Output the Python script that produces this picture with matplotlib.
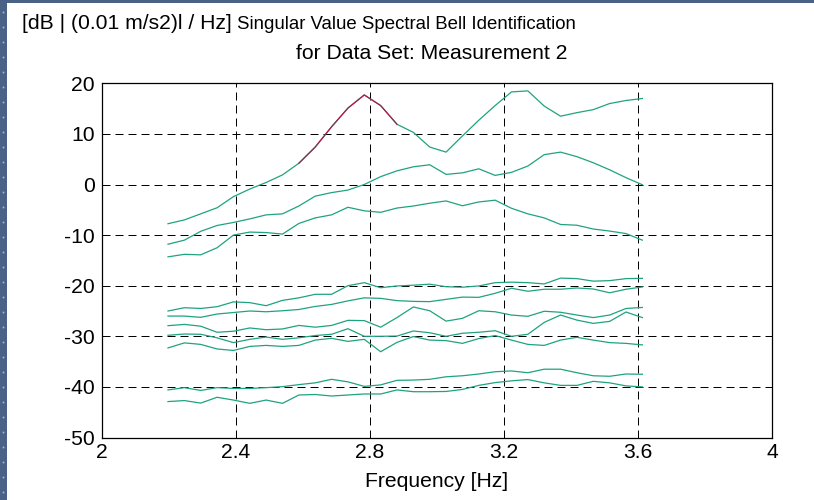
import numpy as np
import matplotlib.pyplot as plt
from matplotlib.patches import Rectangle
from matplotlib.ticker import FormatStrFormatter

# frequency lines (Hz), 30 spectral lines with ~0.0488 Hz resolution
freq_start = 2.197
freq_step = 0.048828
n_points = 30

# singular values [dB]
sv1 = [-7.75, -7.0, -5.8, -4.6, -2.4, -0.9, 0.4, 1.9, 4.2, 7.4,
       11.4, 15.1, 17.7, 15.6, 11.9, 10.3, 7.4, 6.4, 9.6, 12.7,
       15.6, 18.3, 18.5, 15.5, 13.5, 14.2, 14.8, 16.0, 16.6, 17.0]
sv2 = [-11.8, -11.0, -9.25, -8.1, -7.5, -6.8, -6.0, -5.8, -4.25, -2.3,
       -1.6, -1.1, 0.0, 1.55, 2.7, 3.5, 3.9, 2.0, 2.3, 3.1,
       1.8, 2.4, 3.65, 5.9, 6.4, 5.5, 4.3, 2.9, 1.35, -0.05]
sv3 = [-14.3, -13.8, -13.9, -12.5, -10.0, -9.4, -9.5, -9.8, -7.7, -6.6,
       -6.0, -4.5, -5.2, -5.5, -4.65, -4.25, -3.7, -3.25, -4.2, -3.45,
       -3.1, -4.7, -5.8, -6.6, -7.9, -8.05, -8.8, -9.2, -9.7, -11.0]
sv4 = [-25.0, -24.35, -24.5, -24.15, -23.2, -23.35, -23.95, -22.9, -22.4, -21.7,
       -21.7, -20.0, -19.4, -20.4, -20.05, -19.9, -19.7, -20.2, -20.3, -20.05,
       -19.4, -19.3, -19.4, -19.65, -18.5, -18.6, -19.1, -19.0, -18.6, -18.55]
sv5 = [-26.0, -26.0, -26.25, -25.6, -25.3, -25.0, -25.15, -24.95, -24.7, -24.1,
       -23.7, -23.0, -22.4, -22.5, -22.95, -23.1, -23.15, -22.7, -22.25, -22.3,
       -21.5, -20.5, -21.1, -20.7, -20.7, -20.45, -20.65, -21.4, -20.7, -20.25]
sv6 = [-27.9, -27.65, -28.0, -29.2, -29.0, -28.35, -28.7, -28.55, -27.85, -28.2,
       -27.85, -26.85, -26.9, -28.2, -26.3, -24.2, -24.95, -27.0, -26.45, -24.95,
       -25.15, -25.8, -26.05, -25.05, -25.25, -25.8, -26.3, -25.8, -24.5, -24.3]
sv7 = [-29.8, -29.55, -29.6, -30.3, -31.25, -30.6, -30.15, -30.6, -30.3, -29.85,
       -29.6, -28.5, -30.0, -30.0, -29.95, -28.95, -29.3, -30.0, -29.4, -29.2,
       -28.9, -30.0, -29.6, -27.25, -25.8, -26.8, -27.45, -27.05, -25.2, -26.3]
sv8 = [-32.3, -31.3, -31.6, -32.5, -32.8, -32.0, -31.8, -32.0, -31.8, -30.75,
       -30.4, -31.0, -30.6, -33.05, -31.2, -30.05, -30.75, -30.85, -31.4, -30.45,
       -29.85, -30.75, -31.6, -31.8, -30.75, -30.2, -30.75, -31.25, -31.4, -31.7]
sv9 = [-40.6, -40.15, -40.7, -40.15, -40.3, -40.3, -40.15, -39.95, -39.55, -39.2,
       -38.5, -39.0, -39.9, -39.6, -38.7, -38.65, -38.5, -38.0, -37.8, -37.45,
       -37.0, -36.85, -37.2, -36.5, -36.5, -37.2, -37.8, -37.9, -37.45, -37.5]
sv10 = [-42.9, -42.7, -43.2, -42.05, -42.6, -43.25, -42.6, -43.25, -41.6, -41.5,
        -41.8, -41.6, -41.4, -41.4, -40.6, -40.95, -40.95, -40.9, -40.5, -39.7,
        -39.15, -38.8, -38.55, -39.2, -39.7, -39.7, -38.9, -39.2, -39.8, -40.0]

# the selected bell on the first singular value (index range)
bell_start, bell_stop = 8, 14

x_ticks = [2, 2.4, 2.8, 3.2, 3.6, 4]
y_ticks = [20, 10, 0, -10, -20, -30, -40, -50]

green = '#1fa37f'
red = '#b01a48'
frame = '#4a6285'
fs = 15.2

plt.rcParams['font.family'] = ['Liberation Sans', 'DejaVu Sans']
plt.rcParams['axes.unicode_minus'] = False

fig = plt.figure(figsize=(8.14, 5.0), dpi=100)
ax = fig.add_axes([102 / 814, 1 - 437.5 / 500, 670 / 814, 354.2 / 500])

freq = freq_start + freq_step * np.arange(n_points)
for sv in [sv1, sv2, sv3, sv4, sv5, sv6, sv7, sv8, sv9, sv10]:
    ax.plot(freq, sv, color=green, lw=0.9)
# highlighted bell
ax.plot(freq[bell_start:bell_stop + 1], sv1[bell_start:bell_stop + 1],
        color=red, lw=0.9)

ax.set_xlim(2, 4)
ax.set_ylim(-50, 20)
ax.set_xticks(x_ticks)
ax.set_yticks(y_ticks)
ax.xaxis.set_major_formatter(FormatStrFormatter('%g'))
ax.tick_params(length=0, labelsize=fs)
ax.tick_params(axis='y', pad=5)
ax.tick_params(axis='x', pad=4)

# dashed grid only on the inner ticks
for xv in x_ticks[1:-1]:
    ax.axvline(xv, color='black', lw=0.72, ls=(0, (8, 5)), zorder=0)
for yv in y_ticks[1:-1]:
    ax.axhline(yv, color='black', lw=0.72, ls=(0, (8, 5)), zorder=0)

for s in ax.spines.values():
    s.set_linewidth(0.9)

ax.set_xlabel('Frequency [Hz]', fontsize=fs, labelpad=7)

fig.text(22 / 814, 1 - 29 / 500, '[dB | (0.01 m/s2)l / Hz]', fontsize=fs,
         ha='left', va='baseline')
fig.text(237 / 814, 1 - 29 / 500, 'Singular Value Spectral Bell Identification',
         fontsize=13.4, ha='left', va='baseline')
fig.text(432 / 814, 1 - 59 / 500, 'for Data Set: Measurement 2', fontsize=fs,
         ha='center', va='baseline')

# window frame: strip on the left and on the top
fig.patches.append(Rectangle((0, 0), 7 / 814, 1, transform=fig.transFigure,
                             facecolor=frame, edgecolor='none', zorder=5))
fig.patches.append(Rectangle((0, 1 - 3 / 500), 1, 3 / 500, transform=fig.transFigure,
                             facecolor=frame, edgecolor='none', zorder=5))
dot_y = np.arange(12, 500, 15)
fig.lines.append(plt.Line2D(np.full(len(dot_y), 2.5 / 814), 1 - dot_y / 500,
                            transform=fig.transFigure, ls='none', marker='s',
                            ms=1.2, mfc='#9cc0e0', mec='none', zorder=6))

fig.savefig('out.png', dpi=100)
